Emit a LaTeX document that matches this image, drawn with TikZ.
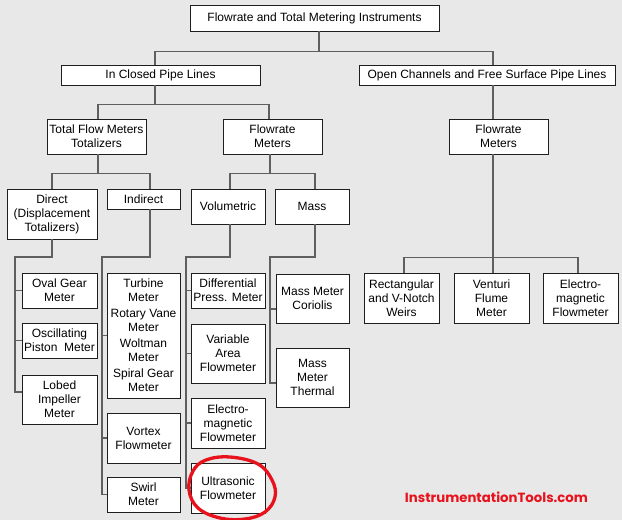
\documentclass[tikz,border=0pt]{standalone}
\usepackage{fontspec}
\setmainfont{Liberation Sans}
\newfontfamily\wmfont{Poppins}
\definecolor{bgc}{RGB}{232,232,232}
\definecolor{linec}{RGB}{95,95,95}
\definecolor{boxc}{RGB}{30,30,30}
\definecolor{wmred}{RGB}{232,18,28}
\tikzset{
  box/.style={draw=boxc, fill=white, line width=0.9pt, inner sep=0pt, align=center,
    font=\fontsize{12}{14}\selectfont},
  wh/.style 2 args={minimum width=#1pt, minimum height=#2pt},
  conn/.style={draw=linec, line width=1.3pt},
}
\begin{document}
\begin{tikzpicture}[x=1pt,y=-1pt]
\fill[bgc] (0,0) rectangle (622,520);
\useasboundingbox (0,0) rectangle (622,520);

% level 0-2
\node[box, wh={249}{26}] (top) at (314.5,18) {Flowrate and Total Metering Instruments};
\node[box, wh={199}{20}] (closed) at (160.5,75) {In Closed Pipe Lines};
\node[box, wh={256}{20}] (open) at (487,75) {Open Channels and Free Surface Pipe Lines};
\node[box, wh={99}{35}] (total) at (96.5,136.5) {Total Flow Meters\\Totalizers};
\node[box, wh={99}{35}] (frl) at (272.5,136.5) {Flowrate\\Meters};
\node[box, wh={99}{35}] (frr) at (498.5,136.5) {Flowrate\\Meters};

% level 3
\node[box, wh={90}{50}] (direct) at (52,214) {Direct\\(Displacement\\Totalizers)};
\node[box, wh={73}{20}] (indirect) at (143.5,199) {Indirect};
\node[box, wh={74}{35}] (vol) at (228,206.5) {Volumetric};
\node[box, wh={74}{35}] (mass) at (312,206.5) {Mass};

% leaves: direct
\node[box, wh={75}{35}] (oval) at (59.5,290.5) {Oval Gear\\Meter};
\node[box, wh={75}{35}] (osc) at (59.5,340.5) {Oscillating\\Piston\ \ Meter};
\node[box, wh={75}{49}] (lobed) at (59.5,399.5) {Lobed\\Impeller\\Meter};

% leaves: indirect
\node[box, wh={73}{125}] (turbine) at (143.5,335.5) {Turbine\\Meter\\[2pt]Rotary Vane\\Meter\\[2pt]Woltman\\Meter\\[2pt]Spiral Gear\\Meter};
\node[box, wh={73}{50}] (vortex) at (143.5,438) {Vortex\\Flowmeter};
\node[box, wh={73}{35}] (swirl) at (143.5,494.5) {Swirl\\Meter};

% leaves: volumetric
\node[box, wh={74}{35}] (diff) at (228,290.5) {Differential\\Press. Meter};
\node[box, wh={74}{59}] (var) at (228,353.5) {Variable\\Area\\Flowmeter};
\node[box, wh={74}{50}] (emv) at (228,423) {Electro-\\magnetic\\Flowmeter};
\node[box, wh={74}{50}] (ultra) at (228,488) {Ultrasonic\\Flowmeter};

% leaves: mass
\node[box, wh={73}{49}] (cor) at (312.5,298.5) {Mass Meter\\Coriolis};
\node[box, wh={73}{59}] (therm) at (312.5,377.5) {Mass\\Meter\\Thermal};

% leaves: open channels
\node[box, wh={75}{50}] (rect) at (401.5,298) {Rectangular\\and V-Notch\\Weirs};
\node[box, wh={75}{50}] (venturi) at (491.5,298) {Venturi\\Flume\\Meter};
\node[box, wh={75}{50}] (emr) at (580.5,298) {Electro-\\magnetic\\Flowmeter};

% connectors
\draw[conn] ([xshift=4.5pt]top.south) -- ++(0,20) coordinate (j1);
\draw[conn] ([xshift=-5.5pt]closed.north) |- (j1) -| ([xshift=6pt]open.north);
\draw[conn] ([xshift=-5.5pt]closed.south) -- ++(0,19) coordinate (j2);
\draw[conn] ([xshift=1.5pt]total.north) |- (j2) -| ([xshift=-3.5pt]frl.north);
\draw[conn] ([xshift=6pt]open.south) -- ([xshift=-5.5pt]frr.north);

\draw[conn] ([xshift=1.5pt]total.south) -- ++(0,19) coordinate (j3);
\draw[conn] (direct.north) |- (j3) -| ([xshift=6.5pt]indirect.north);
\draw[conn] ([xshift=-2.5pt]frl.south) -- ++(0,19) coordinate (j4);
\draw[conn] ([xshift=2pt]vol.north) |- (j4) -| ([xshift=3pt]mass.north);

\draw[conn] ([xshift=-5.5pt]frr.south) -- ++(0,103) coordinate (j5);
\draw[conn] ([xshift=2.5pt]rect.north) |- (j5) -| ([xshift=-2.5pt]emr.north);
\draw[conn] (j5) -- ([xshift=1.5pt]venturi.north);

% direct rail
\coordinate (r1) at (15,257);
\coordinate (lt) at ([yshift=7.5pt]lobed.west);
\draw[conn] (direct.south) |- (r1) |- (lt);
\draw[conn] (r1 |- oval.west) -- (oval.west);
\draw[conn] (r1 |- osc.west) -- (osc.west);

% indirect rail
\coordinate (r2) at (102,257);
\draw[conn] ([xshift=6.5pt]indirect.south) |- (r2) |- (swirl.west);
\draw[conn] (r2 |- turbine.west) -- (turbine.west);
\draw[conn] (r2 |- vortex.west) -- (vortex.west);

% volumetric rail
\coordinate (r3) at (186,257);
\draw[conn] ([xshift=2pt]vol.south) |- (r3) |- (ultra.west);
\draw[conn] (r3 |- diff.west) -- (diff.west);
\draw[conn] (r3 |- var.west) -- (var.west);
\draw[conn] (r3 |- emv.west) -- (emv.west);

% mass rail
\coordinate (r4) at (270,257);
\coordinate (tt) at ([yshift=-5.5pt]therm.west);
\coordinate (ct) at ([yshift=-10.5pt]cor.west);
\draw[conn] ([xshift=3pt]mass.south) |- (r4) |- (tt);
\draw[conn] (r4 |- ct) -- (ct);

% red highlight
\draw[wmred, line width=3.3pt, line cap=round]
  plot[smooth cycle, tension=0.65] coordinates {(230,457) (258,464) (272,480) (275,497) (265,512) (245,519) (220,518) (198,508) (189,490) (193,471) (206,460)};

% watermark
\node[text=wmred, inner sep=0pt] (wm) at (496.5,497.5) {\resizebox{183pt}{!}{\wmfont\bfseries\fontsize{15}{15}\selectfont InstrumentationTools.com}};
\end{tikzpicture}
\end{document}
